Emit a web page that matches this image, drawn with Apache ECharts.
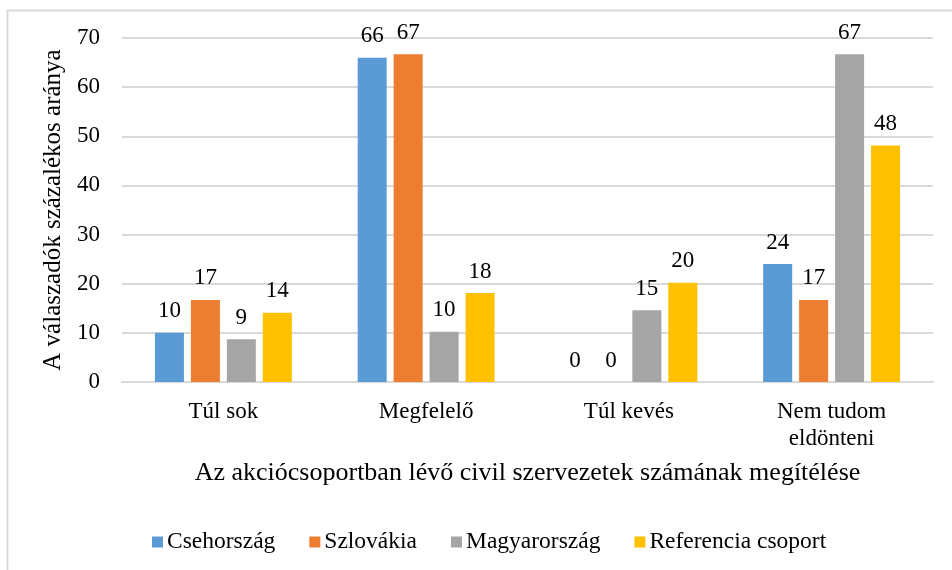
<!DOCTYPE html>
<html>
<head>
<meta charset="utf-8">
<script src="https://cdn.jsdelivr.net/npm/echarts@6/dist/echarts.min.js"></script>
<style>
  html, body { margin: 0; padding: 0; background: #fff; }
  #chart { width: 952px; height: 570px; }
</style>
</head>
<body>
<div id="chart"></div>
<script>
const categories = ["Túl sok", "Megfelelő", "Túl kevés", "Nem tudom\neldönteni"];
const seriesNames = ["Csehország", "Szlovákia", "Magyarország", "Referencia csoport"];
const colors = ["#5b9bd5", "#ed7d31", "#a5a5a5", "#ffc000"];
const cz = [10, 66, 0, 24];
const sk = [16.7, 66.7, 0, 16.7];
const hu = [8.7, 10.2, 14.6, 66.7];
const ref = [14.1, 18.1, 20.2, 48.1];
const yTicks = { min: 0, max: 70, interval: 10 };

const font = "'Liberation Serif', 'Times New Roman', serif";
const chart = echarts.init(document.getElementById("chart"));

const values = [cz, sk, hu, ref];
const series = seriesNames.map((name, i) => ({
  name: name,
  type: "bar",
  data: values[i],
  barWidth: 29,
  barGap: "24%",
  itemStyle: { color: colors[i] },
  label: {
    show: true,
    position: "top",
    distance: 10,
    color: "#000",
    fontFamily: font,
    fontSize: 23,
    formatter: p => Math.round(p.value)
  }
}));

chart.setOption({
  animation: false,
  textStyle: { fontFamily: font },
  graphic: [{
    type: "rect",
    shape: { x: 7.5, y: 10.5, width: 960, height: 580 },
    style: { fill: "none", stroke: "#d9d9d9", lineWidth: 2 },
    silent: true
  }],
  grid: { left: 122, right: 19, top: 38, bottom: 188 },
  legend: {
    bottom: 11,
    left: 147,
    itemWidth: 11,
    itemHeight: 11,
    itemGap: 34,
    icon: "rect",
    textStyle: { fontFamily: font, fontSize: 23.5, color: "#000", padding: [0, 0, 0, -1] },
    data: seriesNames
  },
  xAxis: {
    type: "category",
    data: categories,
    name: "Az akciócsoportban lévő civil szervezetek számának megítélése",
    nameLocation: "middle",
    nameGap: 78,
    nameTextStyle: { fontFamily: font, fontSize: 26, color: "#000" },
    axisLine: { lineStyle: { color: "#d9d9d9", width: 2 } },
    axisTick: { show: false },
    axisLabel: { fontFamily: font, fontSize: 23, color: "#000", margin: 16, lineHeight: 27 }
  },
  yAxis: {
    type: "value",
    min: yTicks.min,
    max: yTicks.max,
    interval: yTicks.interval,
    name: "A válaszadók százalékos aránya",
    nameLocation: "middle",
    nameMoveOverlap: false,
    nameGap: 56,
    nameTextStyle: { fontFamily: font, fontSize: 25, color: "#000" },
    axisLine: { show: false },
    axisTick: { show: false },
    axisLabel: { fontFamily: font, fontSize: 23, color: "#000", margin: 22 },
    splitLine: { lineStyle: { color: "#d9d9d9", width: 2 } }
  },
  series: series
});
</script>
</body>
</html>
